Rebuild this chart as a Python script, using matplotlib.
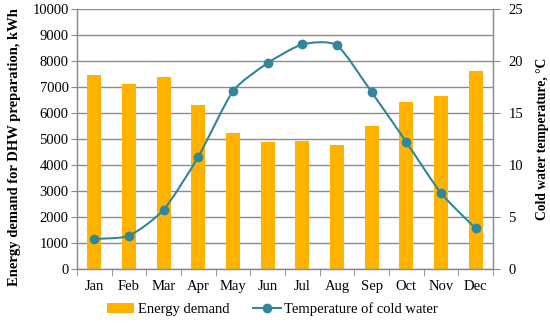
import matplotlib
matplotlib.use("Agg")
import matplotlib.pyplot as plt
import numpy as np
from matplotlib.path import Path
from matplotlib.patches import PathPatch
from matplotlib.lines import Line2D
from matplotlib.patches import Patch

months = ["Jan", "Feb", "Mar", "Apr", "May", "Jun", "Jul", "Aug", "Sep", "Oct", "Nov", "Dec"]
energy = [7450, 7100, 7400, 6310, 5240, 4890, 4935, 4770, 5500, 6410, 6640, 7630]
temperature = [2.9, 3.2, 5.7, 10.8, 17.1, 19.8, 21.6, 21.5, 17.0, 12.2, 7.3, 3.9]

plt.rcParams['font.family'] = ['Liberation Serif', 'DejaVu Serif']
bar_color = "#FFB300"
line_color = "#31869B"
grid_color = "#8C8C8C"

fig = plt.figure(figsize=(5.5, 3.26), dpi=100)
ax = fig.add_axes([0.14, 0.1748, 0.7564, 0.7975])
x = np.arange(len(months))
ax.bar(x, energy, width=0.4, color=bar_color, zorder=2)
ax.set_xlim(-0.5, 11.5)
ax.set_ylim(0, 10000)
ax.set_yticks(np.arange(0, 10001, 1000))
ax.yaxis.grid(True, color=grid_color, linewidth=1.0, zorder=0)
ax.set_axisbelow(True)
ax.set_xticks(x)
ax.set_xticklabels(months)
ax.set_xticks(np.arange(-0.5, 12, 1), minor=True)
ax.tick_params(axis='x', which='major', length=0, labelsize=10.5, pad=8)
ax.tick_params(axis='x', which='minor', length=5, color=grid_color, direction='out')
ax.tick_params(axis='y', labelsize=10.5, length=4, color=grid_color, pad=2)
ax.spines["top"].set_visible(False)
for s in ["left", "bottom", "right"]:
    ax.spines[s].set_color(grid_color)
    ax.spines[s].set_linewidth(1.0)
ax.set_ylabel("Energy demand for DHW preparation, kWh", fontsize=10.5, fontweight='bold')
ax.yaxis.set_label_coords(-0.134, 0.47)

ax2 = ax.twinx()
ax2.set_ylim(0, 25)
ax2.set_yticks(np.arange(0, 26, 5))
ax2.tick_params(axis='y', labelsize=10.5, length=5, color=grid_color, pad=6)
ax2.spines["top"].set_visible(False)
for s in ["left", "bottom", "right"]:
    ax2.spines[s].set_color(grid_color)
ax2.set_ylabel("Cold water temperature, \u00b0C", fontsize=9.8, fontweight='bold', labelpad=9)

# smooth curve through the points (cardinal spline as cubic Bezier)
px = np.array(x, dtype=float)
py = np.array(temperature, dtype=float)
verts = [(px[0], py[0])]
codes = [Path.MOVETO]
n = len(px)
t = 0.11
for i in range(n - 1):
    p0 = (px[i - 1], py[i - 1]) if i > 0 else (px[i], py[i])
    p1 = (px[i], py[i])
    p2 = (px[i + 1], py[i + 1])
    p3 = (px[i + 2], py[i + 2]) if i + 2 < n else (px[i + 1], py[i + 1])
    c1 = (p1[0] + (p2[0] - p0[0]) * t, p1[1] + (p2[1] - p0[1]) * t)
    c2 = (p2[0] - (p3[0] - p1[0]) * t, p2[1] - (p3[1] - p1[1]) * t)
    verts += [c1, c2, p2]
    codes += [Path.CURVE4] * 3
path = Path(verts, codes)
ax2.add_patch(PathPatch(path, facecolor='none', edgecolor=line_color, linewidth=1.5, zorder=3))
ax2.plot(x, temperature, linestyle='none', marker='o', markersize=6, color=line_color, zorder=4)

handles = [Patch(facecolor=bar_color, edgecolor='none'),
           Line2D([0], [0], color=line_color, linewidth=1.5, marker='o', markersize=6)]
fig.legend(handles, ["Energy demand", "Temperature of cold water"], loc='lower center',
           bbox_to_anchor=(0.495, -0.01), ncol=2, frameon=False, fontsize=10.5,
           handlelength=1.9, columnspacing=1.6, handletextpad=0.25)

fig.savefig("out.png", dpi=100)
